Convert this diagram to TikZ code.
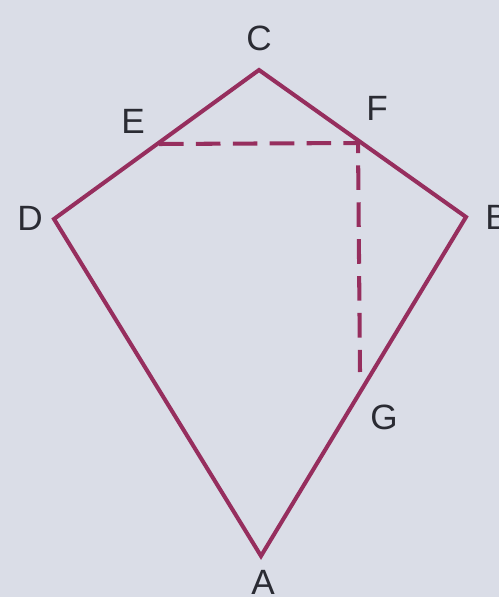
\documentclass[tikz,border=0pt]{standalone}
\usepackage{fontspec}
\setmainfont{Liberation Sans}
\usepackage{xcolor}
\usetikzlibrary{positioning}
\definecolor{kiteline}{HTML}{962E5E}
\definecolor{paper}{HTML}{DADDE7}
\definecolor{ink}{HTML}{2A2B33}
\tikzset{
  kite side/.style={
    draw=kiteline,line width=2.3pt,line join=miter
  },
  kite dash/.style={
    draw=kiteline,line width=2.3pt,dash pattern=on 14pt off 7pt
  },
  vertex label/.style={
    text=ink,inner sep=0pt,font=\fontsize{20}{24}\selectfont
  }
}
\begin{document}
\begin{tikzpicture}[x=0.02cm,y=-0.02cm]
  \fill[paper] (0,0) rectangle (499,597);
  \useasboundingbox (0,0) rectangle (499,597);

  \coordinate (C) at (259,70);
  \coordinate (D) at (54,219);
  \coordinate (B) at (466,217);
  \coordinate (A) at (261,556);
  \coordinate (E) at (159,144);
  \coordinate (F) at (358,143);
  \coordinate (G) at (360,372);

  \draw[kite side] (A) -- (D) -- (C) -- (B) -- cycle;
  \draw[kite dash] (E) -- (F) -- (G);

  \node[vertex label] (lC) at (259,38) {C};
  \node[vertex label] (lE) at (133,121) {E};
  \node[vertex label] (lF) at (377,108) {F};
  \node[vertex label] (lD) at (30,218) {D};
  \node[vertex label] (lB) at (497,217) {B};
  \node[vertex label] (lG) at (384,417) {G};
  \node[vertex label] (lA) at (263,582) {A};
\end{tikzpicture}
\end{document}
